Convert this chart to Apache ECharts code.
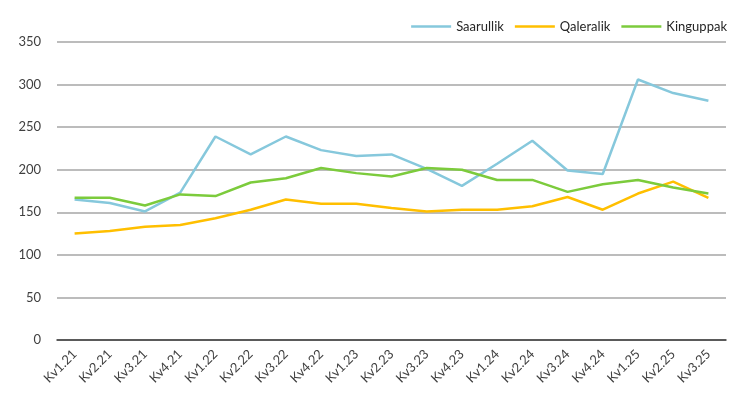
<!DOCTYPE html>
<html>
<head>
<meta charset="utf-8">
<style>
  html, body { margin: 0; padding: 0; background: #fff; }
  #chart { width: 737px; height: 399px; }
</style>
<script src="https://cdn.jsdelivr.net/npm/echarts@6/dist/echarts.min.js"></script>
</head>
<body>
<div id="chart"></div>
<script>
// kvartaler
const categories = [
  "Kv1.21", "Kv2.21", "Kv3.21", "Kv4.21", "Kv1.22", "Kv2.22", "Kv3.22", "Kv4.22",
  "Kv1.23", "Kv2.23", "Kv3.23", "Kv4.23", "Kv1.24", "Kv2.24", "Kv3.24", "Kv4.24",
  "Kv1.25", "Kv2.25", "Kv3.25"
];
const saarullik = [165, 161, 151, 173, 239, 218, 239, 223, 216, 218, 201, 181, 207, 234, 199, 195, 306, 290, 281];
const qaleralik = [125, 128, 133, 135, 143, 153, 165, 160, 160, 155, 151, 153, 153, 157, 168, 153, 172, 186, 167];
const kinguppak = [167, 167, 158, 171, 169, 185, 190, 202, 196, 192, 202, 200, 188, 188, 174, 183, 188, 179, 172];
const yTicks = { min: 0, max: 350, interval: 50 };

const color = {
  blue: "#86C8DC",
  orange: "#FFBF00",
  green: "#7CCB3C",
  grid: "#A6A6A6",
  text: "#404040",
};
const font = "Lato, 'Open Sans', sans-serif";

function makeLine(name, data, c) {
  return {
    name: name,
    type: "line",
    data: data,
    symbol: "none",
    lineStyle: { color: c, width: 2.5 },
    itemStyle: { color: c },
  };
}

const chart = echarts.init(document.getElementById("chart"), null, { renderer: "canvas" });
chart.setOption({
  animation: false,
  backgroundColor: "#fff",
  textStyle: { fontFamily: font },
  legend: {
    top: 15,
    right: 5,
    icon: "rect",
    itemWidth: 40,
    itemHeight: 2.5,
    itemGap: 11,
    textStyle: { color: "#262626", fontSize: 13, fontFamily: font },
    data: ["Saarullik", "Qaleralik", "Kinguppak"],
  },
  grid: { left: 57, right: 11, top: 42, bottom: 59 },
  xAxis: {
    type: "category",
    data: categories,
    boundaryGap: true,
    axisTick: { show: false },
    axisLine: { lineStyle: { color: "#3a3a3a", width: 1.5 } },
    axisLabel: {
      rotate: 45,
      interval: 0,
      margin: 12,
      color: color.text,
      fontSize: 13,
      fontFamily: font,
    },
  },
  yAxis: {
    type: "value",
    min: yTicks.min,
    max: yTicks.max,
    interval: yTicks.interval,
    axisLine: { show: false },
    axisTick: { show: false },
    axisLabel: { color: color.text, fontSize: 13, margin: 16, fontFamily: font },
    splitLine: { lineStyle: { color: color.grid, width: 1.5 } },
  },
  series: [
    makeLine("Saarullik", saarullik, color.blue),
    makeLine("Qaleralik", qaleralik, color.orange),
    makeLine("Kinguppak", kinguppak, color.green),
  ],
});
</script>
</body>
</html>
